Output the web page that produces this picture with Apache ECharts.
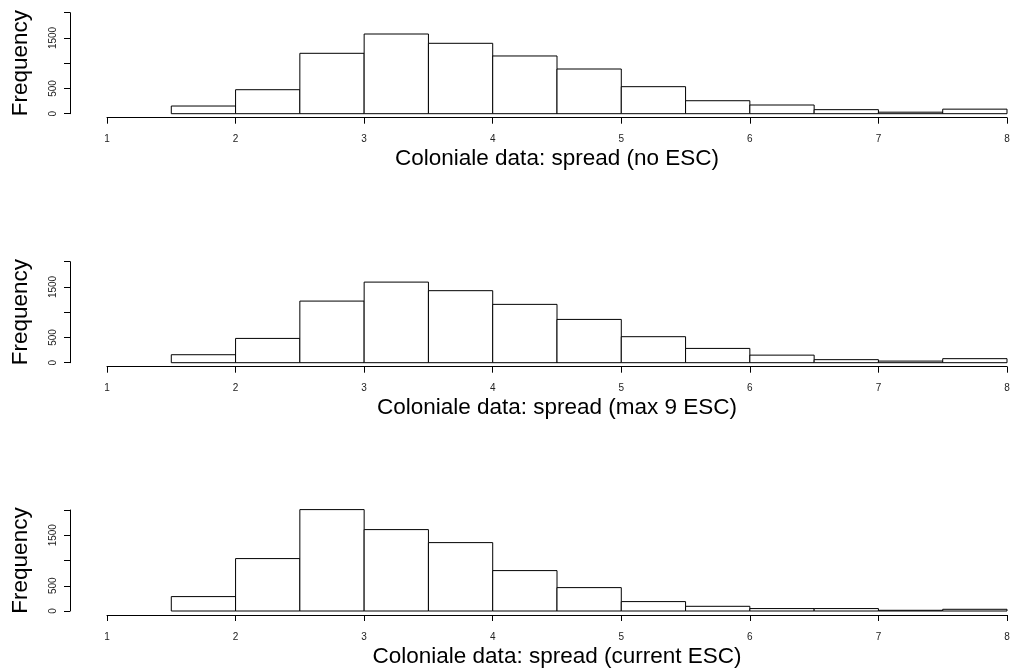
<!DOCTYPE html>
<html>
<head>
<meta charset="utf-8">
<script src="https://cdn.jsdelivr.net/npm/echarts@6/dist/echarts.min.js"></script>
<style>
  html, body { margin: 0; padding: 0; background: #fff; }
  #chart { width: 1010px; height: 669px; }
</style>
</head>
<body>
<div id="chart"></div>
<script>
// bin edges (left / right) of the histograms
const binLeft  = [1.5, 2.0, 2.5, 3.0, 3.5, 4.0, 4.5, 5.0, 5.5, 6.0, 6.5, 7.0, 7.5];
const binRight = [2.0, 2.5, 3.0, 3.5, 4.0, 4.5, 5.0, 5.5, 6.0, 6.5, 7.0, 7.5, 8.0];

// frequencies per panel
const noEsc      = [152, 475, 1196, 1578, 1394, 1143, 885, 535, 257, 172, 80, 30, 90];
const max9Esc    = [158, 481, 1220, 1596, 1426, 1155, 857, 515, 283, 150, 60, 32, 80];
const currentEsc = [285, 1038, 2008, 1612, 1354, 800, 463, 186, 93, 48, 48, 14, 34];

const panelTitles = [
  'Coloniale data: spread (no ESC)',
  'Coloniale data: spread (max 9 ESC)',
  'Coloniale data: spread (current ESC)'
];
const panelData = [noEsc, max9Esc, currentEsc];

const xTicks = [1, 2, 3, 4, 5, 6, 7, 8];
const yTicks = [0, 500, 1000, 1500, 2000];
const yTickLabels = ['0', '500', '', '1500', ''];

const font = 'Liberation Sans, Arial, Helvetica, sans-serif';
const gridTops = [12.7, 261.7, 510];

const myChart = echarts.init(document.getElementById('chart'), null, { renderer: 'canvas' });

const grid = [], xAxis = [], yAxis = [], series = [];

panelData.forEach(function (counts, i) {
  grid.push({ left: 107, width: 900, top: gridTops[i], height: 101, outerBoundsMode: 'none', containLabel: false });

  xAxis.push({
    type: 'value',
    gridIndex: i,
    min: xTicks[0],
    max: xTicks[xTicks.length - 1],
    interval: 1,
    offset: 4,
    splitLine: { show: false },
    axisLine: { onZero: false, lineStyle: { color: '#000', width: 1 } },
    axisTick: { length: 6, lineStyle: { color: '#000' } },
    axisLabel: { fontSize: 10, color: '#222', margin: 17, fontFamily: font },
    name: panelTitles[i],
    nameLocation: 'middle',
    nameGap: 30,
    nameTextStyle: { fontSize: 22.5, color: '#000', fontFamily: font }
  });

  yAxis.push({
    type: 'value',
    gridIndex: i,
    min: yTicks[0],
    max: yTicks[yTicks.length - 1],
    interval: 500,
    offset: 37,
    splitLine: { show: false },
    axisLine: { show: true, onZero: false, lineStyle: { color: '#000', width: 1 } },
    axisTick: { show: true, length: 6, lineStyle: { color: '#000' } },
    axisLabel: {
      fontSize: 10, color: '#222', rotate: 90, margin: 12, fontFamily: font,
      formatter: function (v) { return yTickLabels[yTicks.indexOf(v)]; }
    },
    name: 'Frequency',
    nameLocation: 'middle',
    nameGap: 38,
    nameTextStyle: { fontSize: 22.5, color: '#000', fontFamily: font }
  });

  series.push({
    type: 'custom',
    xAxisIndex: i,
    yAxisIndex: i,
    clip: false,
    data: counts.map(function (c, k) { return [binLeft[k], binRight[k], c]; }),
    encode: { x: [0, 1], y: 2 },
    renderItem: function (params, api) {
      const p0 = api.coord([api.value(0), api.value(2)]);
      const p1 = api.coord([api.value(1), 0]);
      return {
        type: 'rect',
        shape: { x: p0[0], y: p0[1], width: p1[0] - p0[0], height: p1[1] - p0[1] },
        style: { fill: '#fff', stroke: '#000', lineWidth: 1 }
      };
    }
  });
});

myChart.setOption({
  animation: false,
  backgroundColor: '#fff',
  grid: grid,
  xAxis: xAxis,
  yAxis: yAxis,
  series: series
});
</script>
</body>
</html>
